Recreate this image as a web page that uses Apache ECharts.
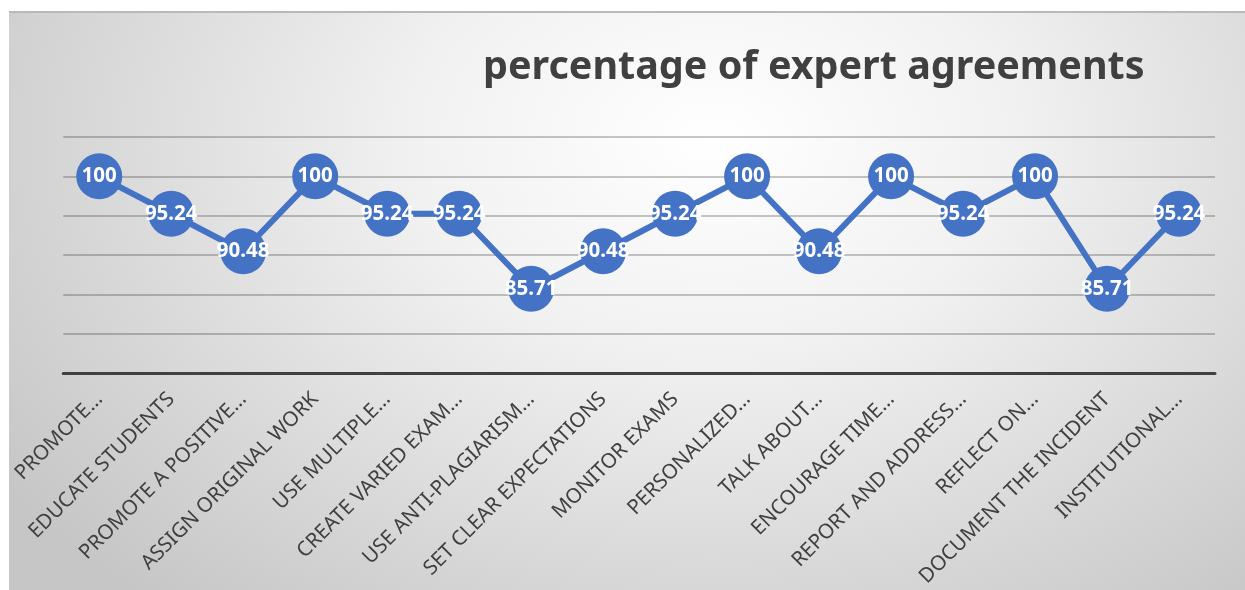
<!DOCTYPE html>
<html>
<head>
<meta charset="utf-8">
<script src="https://cdn.jsdelivr.net/npm/echarts@6/dist/echarts.min.js"></script>
<style>
  html, body { margin: 0; padding: 0; background: #ffffff; width: 1245px; height: 590px; overflow: hidden; }
  #wrap {
    position: absolute; left: 9px; top: 11px; width: 1236px; height: 579px;
    border-top: 2px solid #b9b9b9;
    background: radial-gradient(ellipse 70% 105% at 57% 22%, #ffffff 0%, #f1f1f1 35%, #d6d6d6 75%, #c6c6c6 100%);
  }
  #chart { position: absolute; left: 0; top: 0; width: 1236px; height: 579px; }
</style>
</head>
<body>
<div id="wrap"><div id="chart"></div></div>
<script>
const titleText = 'percentage of expert agreements';
const categories = [
  'PROMOTE…', 'EDUCATE STUDENTS', 'PROMOTE A POSITIVE…', 'ASSIGN ORIGINAL WORK',
  'USE MULTIPLE…', 'CREATE VARIED EXAM…', 'USE ANTI-PLAGIARISM…', 'SET CLEAR EXPECTATIONS',
  'MONITOR EXAMS', 'PERSONALIZED…', 'TALK ABOUT…', 'ENCOURAGE TIME…',
  'REPORT AND ADDRESS…', 'REFLECT ON…', 'DOCUMENT THE INCIDENT', 'INSTITUTIONAL…'
];
const values = [100, 95.24, 90.48, 100, 95.24, 95.24, 85.71, 90.48, 95.24, 100, 90.48, 100, 95.24, 100, 85.71, 95.24];
const yMin = 75, yMax = 105, yStep = 5;

const chart = echarts.init(document.getElementById('chart'), null, { renderer: 'canvas' });
chart.setOption({
  backgroundColor: 'transparent',
  animation: false,
  title: {
    text: titleText,
    left: 469, top: 30,
    textStyle: { fontFamily: 'Noto Sans', fontWeight: 'bold', fontSize: 39.5, color: '#404040' }
  },
  grid: { left: 53, right: 30, top: 124, bottom: 219, containLabel: false },
  xAxis: {
    type: 'category',
    data: categories,
    boundaryGap: true,
    axisLine: { show: true, lineStyle: { color: '#404040', width: 3 } },
    axisTick: { show: false },
    axisLabel: {
      interval: 0, rotate: 45, margin: 23,
      fontFamily: 'Noto Sans', fontSize: 20.5, color: '#404040'
    },
    splitLine: { show: false }
  },
  yAxis: {
    type: 'value',
    min: yMin, max: yMax, interval: yStep,
    axisLine: { show: false },
    axisTick: { show: false },
    axisLabel: { show: false },
    splitLine: { show: true, lineStyle: { color: 'rgba(0,0,0,0.22)', width: 2 } }
  },
  series: [{
    type: 'line',
    data: values,
    symbol: 'circle',
    symbolSize: 46,
    lineStyle: { color: '#4472C4', width: 6 },
    itemStyle: { color: '#4472C4' },
    label: {
      show: true, position: 'inside',
      fontFamily: 'Noto Sans', fontWeight: 'bold', fontSize: 20.5, color: '#ffffff',
      formatter: p => String(p.value)
    },
    z: 3
  }]
});
</script>
</body>
</html>
